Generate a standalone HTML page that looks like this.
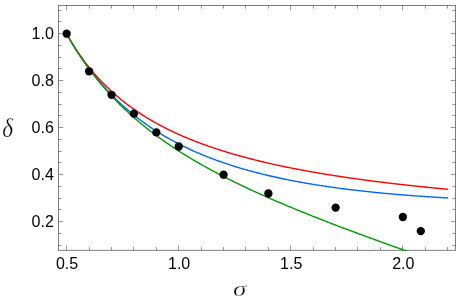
<!DOCTYPE html>
<html><head><meta charset="utf-8"><title>plot</title>
<style>
html,body{margin:0;padding:0;background:#fff;}
body{width:458px;height:304px;overflow:hidden;font-family:"Liberation Sans",sans-serif;}
svg{display:block;}
.tl{font-family:"Liberation Sans",sans-serif;font-size:16px;fill:#000;}
.ax{font-family:"Liberation Serif",serif;font-style:italic;fill:#000;stroke:#fff;stroke-width:0.35px;paint-order:fill stroke;}
</style></head><body>
<svg width="458" height="304" viewBox="0 0 458 304">
<rect x="0" y="0" width="458" height="304" fill="#ffffff"/>
<defs><filter id="ga" filterUnits="userSpaceOnUse" x="0" y="0" width="458" height="304"><feOffset dx="0" dy="0"/></filter><clipPath id="c"><rect x="58.53" y="5.47" width="396.94000000000005" height="245.43"/></clipPath></defs>

<g stroke="#666666" stroke-width="0.7" fill="none">
<path d="M66.50,250.3 v-4.7 M66.50,5.47 v4.7"/>
<path d="M89.50,250.3 v-3.2 M89.50,5.47 v3.2"/>
<path d="M111.50,250.3 v-3.2 M111.50,5.47 v3.2"/>
<path d="M133.50,250.3 v-3.2 M133.50,5.47 v3.2"/>
<path d="M156.50,250.3 v-3.2 M156.50,5.47 v3.2"/>
<path d="M178.50,250.3 v-4.7 M178.50,5.47 v4.7"/>
<path d="M201.50,250.3 v-3.2 M201.50,5.47 v3.2"/>
<path d="M223.50,250.3 v-3.2 M223.50,5.47 v3.2"/>
<path d="M245.50,250.3 v-3.2 M245.50,5.47 v3.2"/>
<path d="M268.50,250.3 v-3.2 M268.50,5.47 v3.2"/>
<path d="M290.50,250.3 v-4.7 M290.50,5.47 v4.7"/>
<path d="M313.50,250.3 v-3.2 M313.50,5.47 v3.2"/>
<path d="M335.50,250.3 v-3.2 M335.50,5.47 v3.2"/>
<path d="M357.50,250.3 v-3.2 M357.50,5.47 v3.2"/>
<path d="M380.50,250.3 v-3.2 M380.50,5.47 v3.2"/>
<path d="M402.50,250.3 v-4.7 M402.50,5.47 v4.7"/>
<path d="M425.50,250.3 v-3.2 M425.50,5.47 v3.2"/>
<path d="M447.50,250.3 v-3.2 M447.50,5.47 v3.2"/>
<path d="M58.53,245.50 h3.2 M455.47,245.50 h-3.2"/>
<path d="M58.53,233.50 h3.2 M455.47,233.50 h-3.2"/>
<path d="M58.53,221.50 h4.7 M455.47,221.50 h-4.7"/>
<path d="M58.53,209.50 h3.2 M455.47,209.50 h-3.2"/>
<path d="M58.53,198.50 h3.2 M455.47,198.50 h-3.2"/>
<path d="M58.53,186.50 h3.2 M455.47,186.50 h-3.2"/>
<path d="M58.53,174.50 h4.7 M455.47,174.50 h-4.7"/>
<path d="M58.53,162.50 h3.2 M455.47,162.50 h-3.2"/>
<path d="M58.53,151.50 h3.2 M455.47,151.50 h-3.2"/>
<path d="M58.53,139.50 h3.2 M455.47,139.50 h-3.2"/>
<path d="M58.53,127.50 h4.7 M455.47,127.50 h-4.7"/>
<path d="M58.53,115.50 h3.2 M455.47,115.50 h-3.2"/>
<path d="M58.53,104.50 h3.2 M455.47,104.50 h-3.2"/>
<path d="M58.53,92.50 h3.2 M455.47,92.50 h-3.2"/>
<path d="M58.53,80.50 h4.7 M455.47,80.50 h-4.7"/>
<path d="M58.53,68.50 h3.2 M455.47,68.50 h-3.2"/>
<path d="M58.53,57.50 h3.2 M455.47,57.50 h-3.2"/>
<path d="M58.53,45.50 h3.2 M455.47,45.50 h-3.2"/>
<path d="M58.53,33.50 h4.7 M455.47,33.50 h-4.7"/>
<path d="M58.53,21.50 h3.2 M455.47,21.50 h-3.2"/>
<path d="M58.53,10.50 h3.2 M455.47,10.50 h-3.2"/>
</g>
<rect x="58.53" y="5.47" width="396.94000000000005" height="244.83" fill="none" stroke="#666666" stroke-width="0.85"/>
<g clip-path="url(#c)" fill="none" stroke-width="1.4" stroke-linejoin="round" stroke-linecap="square">
<path d="M66.50,33.60 L67.62,35.60 L68.74,37.57 L69.86,39.50 L70.98,41.41 L72.10,43.29 L73.22,45.14 L74.34,46.96 L75.46,48.76 L76.58,50.53 L77.71,52.27 L78.83,53.99 L79.95,55.68 L81.07,57.35 L82.19,58.99 L83.31,60.61 L84.43,62.21 L85.55,63.78 L86.67,65.34 L87.79,66.87 L88.91,68.38 L90.03,69.86 L91.15,71.33 L92.27,72.78 L93.39,74.21 L94.51,75.61 L95.63,77.00 L96.75,78.37 L97.87,79.73 L98.99,81.06 L100.12,82.37 L101.24,83.67 L102.36,84.95 L103.48,86.22 L104.60,87.47 L105.72,88.70 L106.84,89.91 L107.96,91.11 L109.08,92.30 L110.20,93.47 L111.32,94.62 L112.44,95.76 L113.56,96.89 L114.68,98.00 L115.80,99.10 L116.92,100.18 L118.04,101.25 L119.16,102.31 L120.28,103.35 L121.40,104.39 L122.53,105.40 L123.65,106.41 L124.77,107.40 L125.89,108.39 L127.01,109.36 L128.13,110.32 L129.25,111.26 L130.37,112.20 L131.49,113.12 L132.61,114.04 L133.73,114.94 L134.85,115.83 L135.97,116.71 L137.09,117.59 L138.21,118.45 L139.33,119.30 L140.45,120.14 L141.57,120.97 L142.69,121.80 L143.81,122.61 L144.94,123.41 L146.06,124.21 L147.18,124.99 L148.30,125.77 L149.42,126.54 L150.54,127.30 L151.66,128.05 L152.78,128.79 L153.90,129.52 L155.02,130.25 L156.14,130.97 L157.26,131.68 L158.38,132.38 L159.50,133.08 L160.62,133.76 L161.74,134.44 L162.86,135.11 L163.98,135.78 L165.10,136.44 L166.22,137.09 L167.34,137.73 L168.47,138.37 L169.59,139.00 L170.71,139.62 L171.83,140.24 L172.95,140.85 L174.07,141.45 L175.19,142.05 L176.31,142.64 L177.43,143.22 L178.55,143.80 L179.67,144.37 L180.79,144.94 L181.91,145.50 L183.03,146.06 L184.15,146.60 L185.27,147.15 L186.39,147.69 L187.51,148.22 L188.63,148.74 L189.75,149.27 L190.88,149.78 L192.00,150.29 L193.12,150.80 L194.24,151.30 L195.36,151.79 L196.48,152.28 L197.60,152.77 L198.72,153.25 L199.84,153.73 L200.96,154.20 L202.08,154.66 L203.20,155.12 L204.32,155.58 L205.44,156.03 L206.56,156.48 L207.68,156.92 L208.80,157.36 L209.92,157.80 L211.04,158.23 L212.16,158.65 L213.29,159.08 L214.41,159.49 L215.53,159.91 L216.65,160.32 L217.77,160.72 L218.89,161.13 L220.01,161.52 L221.13,161.92 L222.25,162.31 L223.37,162.69 L224.49,163.08 L225.61,163.46 L226.73,163.83 L227.85,164.20 L228.97,164.57 L230.09,164.94 L231.21,165.30 L232.33,165.66 L233.45,166.01 L234.57,166.36 L235.70,166.71 L236.82,167.05 L237.94,167.39 L239.06,167.73 L240.18,168.07 L241.30,168.40 L242.42,168.73 L243.54,169.05 L244.66,169.37 L245.78,169.69 L246.90,170.01 L248.02,170.32 L249.14,170.63 L250.26,170.94 L251.38,171.25 L252.50,171.55 L253.62,171.85 L254.74,172.14 L255.86,172.44 L256.99,172.73 L258.11,173.02 L259.23,173.30 L260.35,173.58 L261.47,173.86 L262.59,174.14 L263.71,174.42 L264.83,174.69 L265.95,174.96 L267.07,175.23 L268.19,175.49 L269.31,175.75 L270.43,176.01 L271.55,176.27 L272.67,176.53 L273.79,176.78 L274.91,177.03 L276.03,177.28 L277.15,177.53 L278.27,177.77 L279.40,178.01 L280.52,178.25 L281.64,178.49 L282.76,178.73 L283.88,178.96 L285.00,179.19 L286.12,179.42 L287.24,179.65 L288.36,179.87 L289.48,180.09 L290.60,180.32 L291.72,180.53 L292.84,180.75 L293.96,180.97 L295.08,181.18 L296.20,181.39 L297.32,181.60 L298.44,181.81 L299.56,182.01 L300.68,182.22 L301.81,182.42 L302.93,182.62 L304.05,182.82 L305.17,183.01 L306.29,183.21 L307.41,183.40 L308.53,183.59 L309.65,183.78 L310.77,183.97 L311.89,184.16 L313.01,184.34 L314.13,184.53 L315.25,184.71 L316.37,184.89 L317.49,185.07 L318.61,185.24 L319.73,185.42 L320.85,185.59 L321.97,185.76 L323.09,185.93 L324.22,186.10 L325.34,186.27 L326.46,186.44 L327.58,186.60 L328.70,186.76 L329.82,186.93 L330.94,187.09 L332.06,187.24 L333.18,187.40 L334.30,187.56 L335.42,187.71 L336.54,187.87 L337.66,188.02 L338.78,188.17 L339.90,188.32 L341.02,188.47 L342.14,188.61 L343.26,188.76 L344.38,188.90 L345.50,189.05 L346.62,189.19 L347.75,189.33 L348.87,189.47 L349.99,189.60 L351.11,189.74 L352.23,189.88 L353.35,190.01 L354.47,190.14 L355.59,190.28 L356.71,190.41 L357.83,190.54 L358.95,190.67 L360.07,190.79 L361.19,190.92 L362.31,191.05 L363.43,191.17 L364.55,191.29 L365.67,191.41 L366.79,191.54 L367.91,191.65 L369.04,191.77 L370.16,191.89 L371.28,192.01 L372.40,192.12 L373.52,192.24 L374.64,192.35 L375.76,192.46 L376.88,192.58 L378.00,192.69 L379.12,192.80 L380.24,192.91 L381.36,193.01 L382.48,193.12 L383.60,193.23 L384.72,193.33 L385.84,193.44 L386.96,193.54 L388.08,193.64 L389.20,193.74 L390.32,193.84 L391.44,193.94 L392.57,194.04 L393.69,194.14 L394.81,194.24 L395.93,194.33 L397.05,194.43 L398.17,194.52 L399.29,194.62 L400.41,194.71 L401.53,194.80 L402.65,194.89 L403.77,194.98 L404.89,195.07 L406.01,195.16 L407.13,195.25 L408.25,195.34 L409.37,195.42 L410.49,195.51 L411.61,195.59 L412.73,195.68 L413.85,195.76 L414.98,195.84 L416.10,195.92 L417.22,196.01 L418.34,196.09 L419.46,196.17 L420.58,196.24 L421.70,196.32 L422.82,196.40 L423.94,196.48 L425.06,196.55 L426.18,196.63 L427.30,196.70 L428.42,196.78 L429.54,196.85 L430.66,196.92 L431.78,197.00 L432.90,197.07 L434.02,197.14 L435.14,197.21 L436.27,197.28 L437.39,197.35 L438.51,197.42 L439.63,197.48 L440.75,197.55 L441.87,197.62 L442.99,197.68 L444.11,197.75 L445.23,197.81 L446.35,197.88 L447.47,197.94" stroke="#0066ff"/>
<path d="M66.50,33.60 L67.62,35.59 L68.74,37.55 L69.86,39.47 L70.98,41.35 L72.10,43.19 L73.22,45.00 L74.34,46.78 L75.46,48.52 L76.58,50.23 L77.71,51.91 L78.83,53.56 L79.95,55.18 L81.07,56.77 L82.19,58.34 L83.31,59.87 L84.43,61.38 L85.55,62.87 L86.67,64.33 L87.79,65.76 L88.91,67.17 L90.03,68.56 L91.15,69.92 L92.27,71.27 L93.39,72.59 L94.51,73.89 L95.63,75.16 L96.75,76.42 L97.87,77.66 L98.99,78.88 L100.12,80.08 L101.24,81.27 L102.36,82.43 L103.48,83.58 L104.60,84.71 L105.72,85.82 L106.84,86.92 L107.96,88.00 L109.08,89.07 L110.20,90.12 L111.32,91.15 L112.44,92.17 L113.56,93.18 L114.68,94.17 L115.80,95.15 L116.92,96.11 L118.04,97.06 L119.16,98.00 L120.28,98.93 L121.40,99.84 L122.53,100.74 L123.65,101.63 L124.77,102.51 L125.89,103.38 L127.01,104.23 L128.13,105.07 L129.25,105.91 L130.37,106.73 L131.49,107.54 L132.61,108.34 L133.73,109.14 L134.85,109.92 L135.97,110.69 L137.09,111.45 L138.21,112.21 L139.33,112.95 L140.45,113.69 L141.57,114.41 L142.69,115.13 L143.81,115.84 L144.94,116.54 L146.06,117.23 L147.18,117.92 L148.30,118.60 L149.42,119.27 L150.54,119.93 L151.66,120.58 L152.78,121.23 L153.90,121.87 L155.02,122.50 L156.14,123.12 L157.26,123.74 L158.38,124.35 L159.50,124.96 L160.62,125.56 L161.74,126.15 L162.86,126.73 L163.98,127.31 L165.10,127.89 L166.22,128.45 L167.34,129.01 L168.47,129.57 L169.59,130.12 L170.71,130.66 L171.83,131.20 L172.95,131.73 L174.07,132.26 L175.19,132.78 L176.31,133.30 L177.43,133.81 L178.55,134.31 L179.67,134.82 L180.79,135.31 L181.91,135.80 L183.03,136.29 L184.15,136.77 L185.27,137.25 L186.39,137.72 L187.51,138.19 L188.63,138.65 L189.75,139.11 L190.88,139.56 L192.00,140.02 L193.12,140.46 L194.24,140.90 L195.36,141.34 L196.48,141.77 L197.60,142.20 L198.72,142.63 L199.84,143.05 L200.96,143.47 L202.08,143.88 L203.20,144.29 L204.32,144.70 L205.44,145.11 L206.56,145.50 L207.68,145.90 L208.80,146.29 L209.92,146.68 L211.04,147.07 L212.16,147.45 L213.29,147.83 L214.41,148.21 L215.53,148.58 L216.65,148.95 L217.77,149.31 L218.89,149.68 L220.01,150.04 L221.13,150.39 L222.25,150.75 L223.37,151.10 L224.49,151.45 L225.61,151.79 L226.73,152.14 L227.85,152.48 L228.97,152.81 L230.09,153.15 L231.21,153.48 L232.33,153.81 L233.45,154.13 L234.57,154.46 L235.70,154.78 L236.82,155.10 L237.94,155.41 L239.06,155.73 L240.18,156.04 L241.30,156.35 L242.42,156.65 L243.54,156.96 L244.66,157.26 L245.78,157.56 L246.90,157.85 L248.02,158.15 L249.14,158.44 L250.26,158.73 L251.38,159.02 L252.50,159.30 L253.62,159.59 L254.74,159.87 L255.86,160.15 L256.99,160.43 L258.11,160.70 L259.23,160.97 L260.35,161.25 L261.47,161.51 L262.59,161.78 L263.71,162.05 L264.83,162.31 L265.95,162.57 L267.07,162.83 L268.19,163.09 L269.31,163.35 L270.43,163.60 L271.55,163.85 L272.67,164.10 L273.79,164.35 L274.91,164.60 L276.03,164.84 L277.15,165.09 L278.27,165.33 L279.40,165.57 L280.52,165.81 L281.64,166.05 L282.76,166.28 L283.88,166.52 L285.00,166.75 L286.12,166.98 L287.24,167.21 L288.36,167.44 L289.48,167.66 L290.60,167.89 L291.72,168.11 L292.84,168.33 L293.96,168.55 L295.08,168.77 L296.20,168.99 L297.32,169.20 L298.44,169.42 L299.56,169.63 L300.68,169.84 L301.81,170.05 L302.93,170.26 L304.05,170.47 L305.17,170.67 L306.29,170.88 L307.41,171.08 L308.53,171.29 L309.65,171.49 L310.77,171.69 L311.89,171.88 L313.01,172.08 L314.13,172.28 L315.25,172.47 L316.37,172.67 L317.49,172.86 L318.61,173.05 L319.73,173.24 L320.85,173.43 L321.97,173.62 L323.09,173.80 L324.22,173.99 L325.34,174.17 L326.46,174.36 L327.58,174.54 L328.70,174.72 L329.82,174.90 L330.94,175.08 L332.06,175.26 L333.18,175.43 L334.30,175.61 L335.42,175.78 L336.54,175.96 L337.66,176.13 L338.78,176.30 L339.90,176.47 L341.02,176.64 L342.14,176.81 L343.26,176.98 L344.38,177.15 L345.50,177.31 L346.62,177.48 L347.75,177.64 L348.87,177.80 L349.99,177.97 L351.11,178.13 L352.23,178.29 L353.35,178.45 L354.47,178.61 L355.59,178.76 L356.71,178.92 L357.83,179.08 L358.95,179.23 L360.07,179.39 L361.19,179.54 L362.31,179.69 L363.43,179.84 L364.55,179.99 L365.67,180.14 L366.79,180.29 L367.91,180.44 L369.04,180.59 L370.16,180.74 L371.28,180.88 L372.40,181.03 L373.52,181.17 L374.64,181.31 L375.76,181.46 L376.88,181.60 L378.00,181.74 L379.12,181.88 L380.24,182.02 L381.36,182.16 L382.48,182.30 L383.60,182.44 L384.72,182.57 L385.84,182.71 L386.96,182.85 L388.08,182.98 L389.20,183.11 L390.32,183.25 L391.44,183.38 L392.57,183.51 L393.69,183.64 L394.81,183.77 L395.93,183.90 L397.05,184.03 L398.17,184.16 L399.29,184.29 L400.41,184.42 L401.53,184.55 L402.65,184.67 L403.77,184.80 L404.89,184.92 L406.01,185.05 L407.13,185.17 L408.25,185.29 L409.37,185.42 L410.49,185.54 L411.61,185.66 L412.73,185.78 L413.85,185.90 L414.98,186.02 L416.10,186.14 L417.22,186.26 L418.34,186.37 L419.46,186.49 L420.58,186.61 L421.70,186.72 L422.82,186.84 L423.94,186.95 L425.06,187.07 L426.18,187.18 L427.30,187.30 L428.42,187.41 L429.54,187.52 L430.66,187.63 L431.78,187.74 L432.90,187.86 L434.02,187.97 L435.14,188.08 L436.27,188.18 L437.39,188.29 L438.51,188.40 L439.63,188.51 L440.75,188.62 L441.87,188.72 L442.99,188.83 L444.11,188.94 L445.23,189.04 L446.35,189.15 L447.47,189.25" stroke="#ff0000"/>
<path d="M66.50,33.60 L67.62,35.60 L68.74,37.57 L69.86,39.51 L70.98,41.42 L72.10,43.30 L73.22,45.16 L74.34,46.99 L75.46,48.79 L76.58,50.57 L77.71,52.33 L78.83,54.06 L79.95,55.76 L81.07,57.44 L82.19,59.10 L83.31,60.74 L84.43,62.36 L85.55,63.95 L86.67,65.52 L87.79,67.08 L88.91,68.61 L90.03,70.12 L91.15,71.62 L92.27,73.09 L93.39,74.55 L94.51,75.99 L95.63,77.41 L96.75,78.82 L97.87,80.21 L98.99,81.58 L100.12,82.93 L101.24,84.27 L102.36,85.60 L103.48,86.90 L104.60,88.20 L105.72,89.48 L106.84,90.74 L107.96,91.99 L109.08,93.23 L110.20,94.45 L111.32,95.66 L112.44,96.85 L113.56,98.04 L114.68,99.21 L115.80,100.37 L116.92,101.51 L118.04,102.65 L119.16,103.77 L120.28,104.88 L121.40,105.98 L122.53,107.07 L123.65,108.15 L124.77,109.21 L125.89,110.27 L127.01,111.32 L128.13,112.35 L129.25,113.38 L130.37,114.40 L131.49,115.40 L132.61,116.40 L133.73,117.39 L134.85,118.37 L135.97,119.34 L137.09,120.30 L138.21,121.25 L139.33,122.20 L140.45,123.13 L141.57,124.06 L142.69,124.98 L143.81,125.89 L144.94,126.80 L146.06,127.69 L147.18,128.58 L148.30,129.46 L149.42,130.34 L150.54,131.20 L151.66,132.06 L152.78,132.92 L153.90,133.76 L155.02,134.60 L156.14,135.44 L157.26,136.26 L158.38,137.08 L159.50,137.90 L160.62,138.70 L161.74,139.51 L162.86,140.30 L163.98,141.09 L165.10,141.87 L166.22,142.65 L167.34,143.42 L168.47,144.19 L169.59,144.95 L170.71,145.71 L171.83,146.46 L172.95,147.20 L174.07,147.95 L175.19,148.68 L176.31,149.41 L177.43,150.14 L178.55,150.86 L179.67,151.57 L180.79,152.28 L181.91,152.99 L183.03,153.69 L184.15,154.39 L185.27,155.08 L186.39,155.77 L187.51,156.46 L188.63,157.14 L189.75,157.81 L190.88,158.49 L192.00,159.15 L193.12,159.82 L194.24,160.48 L195.36,161.13 L196.48,161.79 L197.60,162.44 L198.72,163.08 L199.84,163.72 L200.96,164.36 L202.08,165.00 L203.20,165.63 L204.32,166.25 L205.44,166.88 L206.56,167.50 L207.68,168.12 L208.80,168.73 L209.92,169.34 L211.04,169.95 L212.16,170.55 L213.29,171.16 L214.41,171.75 L215.53,172.35 L216.65,172.94 L217.77,173.53 L218.89,174.12 L220.01,174.70 L221.13,175.29 L222.25,175.87 L223.37,176.44 L224.49,177.01 L225.61,177.59 L226.73,178.15 L227.85,178.72 L228.97,179.28 L230.09,179.84 L231.21,180.40 L232.33,180.96 L233.45,181.51 L234.57,182.06 L235.70,182.61 L236.82,183.16 L237.94,183.70 L239.06,184.24 L240.18,184.78 L241.30,185.32 L242.42,185.86 L243.54,186.39 L244.66,186.92 L245.78,187.45 L246.90,187.98 L248.02,188.50 L249.14,189.03 L250.26,189.55 L251.38,190.07 L252.50,190.59 L253.62,191.10 L254.74,191.61 L255.86,192.13 L256.99,192.64 L258.11,193.15 L259.23,193.65 L260.35,194.16 L261.47,194.66 L262.59,195.16 L263.71,195.66 L264.83,196.16 L265.95,196.66 L267.07,197.15 L268.19,197.65 L269.31,198.14 L270.43,198.63 L271.55,199.12 L272.67,199.60 L273.79,200.09 L274.91,200.57 L276.03,201.06 L277.15,201.54 L278.27,202.02 L279.40,202.50 L280.52,202.98 L281.64,203.45 L282.76,203.93 L283.88,204.40 L285.00,204.87 L286.12,205.34 L287.24,205.81 L288.36,206.28 L289.48,206.75 L290.60,207.22 L291.72,207.68 L292.84,208.14 L293.96,208.61 L295.08,209.07 L296.20,209.53 L297.32,209.99 L298.44,210.44 L299.56,210.90 L300.68,211.36 L301.81,211.81 L302.93,212.27 L304.05,212.72 L305.17,213.17 L306.29,213.62 L307.41,214.07 L308.53,214.52 L309.65,214.97 L310.77,215.41 L311.89,215.86 L313.01,216.30 L314.13,216.75 L315.25,217.19 L316.37,217.63 L317.49,218.07 L318.61,218.51 L319.73,218.95 L320.85,219.39 L321.97,219.83 L323.09,220.27 L324.22,220.70 L325.34,221.14 L326.46,221.57 L327.58,222.00 L328.70,222.44 L329.82,222.87 L330.94,223.30 L332.06,223.73 L333.18,224.16 L334.30,224.59 L335.42,225.02 L336.54,225.45 L337.66,225.87 L338.78,226.30 L339.90,226.72 L341.02,227.15 L342.14,227.57 L343.26,228.00 L344.38,228.42 L345.50,228.84 L346.62,229.26 L347.75,229.68 L348.87,230.10 L349.99,230.52 L351.11,230.94 L352.23,231.36 L353.35,231.78 L354.47,232.20 L355.59,232.61 L356.71,233.03 L357.83,233.44 L358.95,233.86 L360.07,234.27 L361.19,234.69 L362.31,235.10 L363.43,235.51 L364.55,235.93 L365.67,236.34 L366.79,236.75 L367.91,237.16 L369.04,237.57 L370.16,237.98 L371.28,238.39 L372.40,238.80 L373.52,239.21 L374.64,239.61 L375.76,240.02 L376.88,240.43 L378.00,240.83 L379.12,241.24 L380.24,241.65 L381.36,242.05 L382.48,242.46 L383.60,242.86 L384.72,243.27 L385.84,243.67 L386.96,244.07 L388.08,244.47 L389.20,244.88 L390.32,245.28 L391.44,245.68 L392.57,246.08 L393.69,246.48 L394.81,246.88 L395.93,247.28 L397.05,247.68 L398.17,248.08 L399.29,248.48 L400.41,248.88 L401.53,249.28 L402.65,249.68 L403.77,250.08 L404.89,250.47 L406.01,250.87 L407.13,251.27 L408.25,251.66 L409.37,252.06 L410.49,252.46 L411.61,252.85 L412.73,253.25 L413.85,253.64 L414.98,254.04 L416.10,254.43 L417.22,254.82 L418.34,255.22 L419.46,255.61 L420.58,256.01 L421.70,256.40 L422.82,256.79 L423.94,257.18 L425.06,257.58 L426.18,257.97 L427.30,258.36 L428.42,258.75 L429.54,259.14 L430.66,259.53 L431.78,259.93 L432.90,260.32 L434.02,260.71 L435.14,261.10 L436.27,261.49 L437.39,261.88 L438.51,262.27 L439.63,262.66 L440.75,263.05 L441.87,263.43 L442.99,263.82 L444.11,264.21 L445.23,264.60 L446.35,264.99 L447.47,265.38" stroke="#009900"/>
</g>
<g fill="#000">
<circle cx="66.70" cy="33.70" r="4.15"/>
<circle cx="89.11" cy="71.30" r="4.15"/>
<circle cx="111.52" cy="94.80" r="4.15"/>
<circle cx="133.93" cy="113.60" r="4.15"/>
<circle cx="156.34" cy="132.40" r="4.15"/>
<circle cx="178.75" cy="146.50" r="4.15"/>
<circle cx="223.57" cy="174.70" r="4.15"/>
<circle cx="268.39" cy="193.50" r="4.15"/>
<circle cx="335.62" cy="207.60" r="4.15"/>
<circle cx="402.85" cy="217.00" r="4.15"/>
<circle cx="420.78" cy="231.10" r="4.15"/>
</g>
<g filter="url(#ga)" style="text-rendering:auto">
<text class="tl" x="53.8" y="227.15" text-anchor="end">0.2</text>
<text class="tl" x="53.8" y="180.15" text-anchor="end">0.4</text>
<text class="tl" x="53.8" y="133.15" text-anchor="end">0.6</text>
<text class="tl" x="53.8" y="86.15" text-anchor="end">0.8</text>
<text class="tl" x="53.8" y="39.15" text-anchor="end">1.0</text>
<text class="tl" x="67.10" y="268.8" text-anchor="middle">0.5</text>
<text class="tl" x="179.15" y="268.8" text-anchor="middle">1.0</text>
<text class="tl" x="291.20" y="268.8" text-anchor="middle">1.5</text>
<text class="tl" x="403.25" y="268.8" text-anchor="middle">2.0</text>
<text class="ax" font-size="26.6" transform="translate(7.6,136.5) scale(0.87,1)" x="0" y="0" text-anchor="middle">&#948;</text>
<text class="ax" font-size="21.5" transform="translate(239.6,295.6) scale(1.26,1)" x="0" y="0" text-anchor="middle">&#963;</text>
</g>
</svg></body></html>
